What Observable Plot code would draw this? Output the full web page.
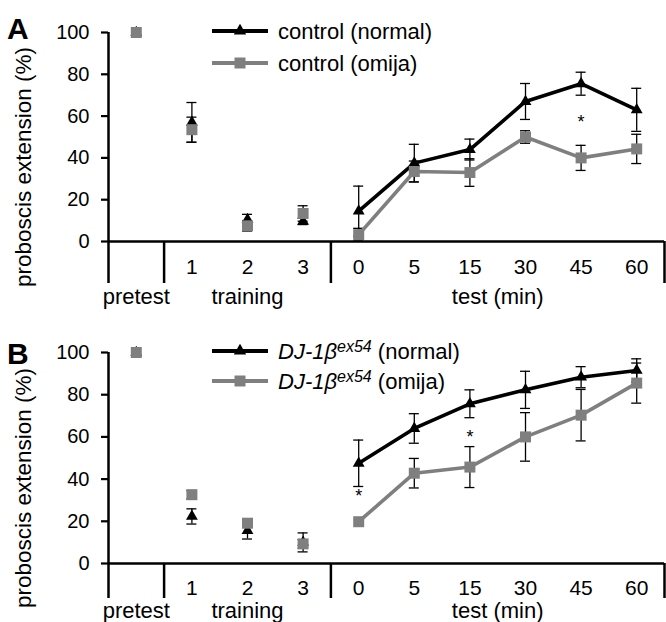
<!DOCTYPE html>
<html>
<head>
<meta charset="utf-8">
<script src="https://cdn.jsdelivr.net/npm/d3@7"></script>
<script src="https://cdn.jsdelivr.net/npm/@observablehq/plot@0.6"></script>
<style>
  html, body { margin: 0; padding: 0; background: #fff; }
  #chart svg { display: block; }
</style>
</head>
<body>
<div id="chart"></div>
<script>
// ---- data ----
const categories = ["pretest", "1", "2", "3", "0", "5", "15", "30", "45", "60"];
const tickLabels = ["", "1", "2", "3", "0", "5", "15", "30", "45", "60"];
const groupLabels = ["pretest", "training", "test (min)"];
const groupFirst = [0, 1, 4];   // first category index of each group
const groupLast = [0, 3, 9];    // last category index of each group
const yTicks = [0, 20, 40, 60, 80, 100];

// Panel A: control flies
const aNormal    = [100, 57, 10.5, 9.6, 14.5, 37.5, 44, 67, 75.5, 63];
const aNormalErr = [0, 9.5, 2.5, 1.5, 12, 9, 5, 8.6, 5.5, 10.3];
const aOmija     = [100, 53.5, 7.5, 13.4, 3.3, 33.5, 33, 50, 40, 44.3];
const aOmijaErr  = [0, 6, 2.5, 3.7, 3, 5, 6.6, 3, 6, 7];
const aStarCats  = ["45"];
const aStarVals  = [57];

// Panel B: DJ-1beta ex54 flies
const bNormal    = [100, 22.3, 15.6, 10, 47.5, 64, 75.7, 82.3, 88.3, 91.5];
const bNormalErr = [0, 3.6, 4, 4.5, 11, 7, 6.6, 8.8, 5, 5.5];
const bOmija     = [100, 32.6, 19.1, 9.3, 19.8, 42.8, 45.7, 60, 70.3, 85.5];
const bOmijaErr  = [0, 2, 2, 2, 0, 7, 9.7, 11.5, 12.2, 9.5];
const bStarCats  = ["0", "15"];
const bStarVals  = [32, 60];

const BLACK = "#000000";
const GRAY = "#7f7f7f";
const FONT = "Liberation Sans, Arial, Helvetica, sans-serif";

function rows(vals, errs) {
  return categories.map((c, i) => ({cat: c, i: i + 0.5, v: vals[i], e: errs[i]}));
}

function seriesMarks(data, color, symbol, r) {
  const withErr = data.filter(d => d.e > 0);
  const test = data.filter(d => d.i > 4);
  return [
    Plot.ruleX(withErr, {x: "i", y1: d => d.v - d.e, y2: d => d.v + d.e, stroke: BLACK, strokeWidth: 1.3}),
    Plot.ruleY(withErr, {y: d => d.v + d.e, x1: d => d.i - 0.09, x2: d => d.i + 0.09, stroke: BLACK, strokeWidth: 1.3}),
    Plot.ruleY(withErr, {y: d => d.v - d.e, x1: d => d.i - 0.09, x2: d => d.i + 0.09, stroke: BLACK, strokeWidth: 1.3}),
    Plot.line(test, {x: "i", y: "v", stroke: color, strokeWidth: 3.6}),
    Plot.dot(data, {x: "i", y: "v", symbol: symbol, r: r, fill: color, stroke: "none"})
  ];
}

function panel(cfg) {
  const normal = rows(cfg.normal, cfg.normalErr);
  const omija = rows(cfg.omija, cfg.omijaErr);
  const stars = cfg.starCats.map((c, k) => ({i: categories.indexOf(c) + 0.5, v: cfg.starVals[k]}));
  const ticks = tickLabels.map((t, i) => ({t, i: i + 0.5}));
  const groups = groupLabels.map((g, k) => ({g, i: (groupFirst[k] + groupLast[k] + 1) / 2}));

  const svg = Plot.plot({
    width: 666,
    height: cfg.height,
    marginLeft: 108,
    marginRight: 2,
    marginTop: cfg.top,
    marginBottom: cfg.height - cfg.bottom,
    x: {domain: [0, 10], axis: null},
    y: {domain: [0, 100]},
    style: {fontFamily: FONT, background: "white", color: "black", overflow: "visible"},
    marks: [
      Plot.axisY(yTicks, {anchor: "left", tickSize: 7, tickPadding: 12, fontSize: 20, strokeWidth: 2.2, label: null}),
      Plot.ruleX([0], {y1: cfg.sepBottom, y2: 100, stroke: BLACK, strokeWidth: 2.5}),
      Plot.ruleX([1, 4, 10], {y1: cfg.sepBottom, y2: 0, stroke: BLACK, strokeWidth: 2.5}),
      Plot.ruleY([0], {x1: 0, x2: 10, stroke: BLACK, strokeWidth: 2.5}),
      Plot.text(ticks, {x: "i", y: 0, text: "t", dy: cfg.tickDy, fontSize: 21, fill: BLACK}),
      Plot.text(groups, {x: "i", y: 0, text: "g", dy: cfg.groupDy, fontSize: 22, fill: BLACK}),
      ...seriesMarks(normal, BLACK, "triangle", 4.4),
      ...seriesMarks(omija, GRAY, "square", 6.2),
      Plot.text(stars, {x: "i", y: "v", text: () => "*", fontSize: 18, fill: BLACK})
    ]
  });

  const s = d3.select(svg);
  // panel letter
  s.append("text").attr("x", 7).attr("y", cfg.letterY)
    .attr("text-anchor", "start")
    .attr("font-family", FONT).attr("font-weight", "bold").attr("font-size", 30)
    .text(cfg.letter);
  // y label
  s.append("text")
    .attr("transform", `translate(31,${cfg.ylabelY}) rotate(-90)`)
    .attr("text-anchor", "middle").attr("font-family", FONT).attr("font-size", 22.5)
    .text("proboscis extension (%)");
  // legend
  const items = [
    {color: BLACK, symbol: d3.symbolTriangle, size: Math.PI * 4.6 * 4.6, suffix: " (normal)", y: cfg.legendY[0]},
    {color: GRAY, symbol: d3.symbolSquare, size: Math.PI * 6.2 * 6.2, suffix: " (omija)", y: cfg.legendY[1]}
  ];
  const lg = s.append("g").attr("text-anchor", "start");
  items.forEach(it => {
    lg.append("line").attr("x1", 212).attr("x2", 268).attr("y1", it.y).attr("y2", it.y)
      .attr("stroke", it.color).attr("stroke-width", 4);
    lg.append("path").attr("d", d3.symbol(it.symbol, it.size)())
      .attr("transform", `translate(240,${it.y})`).attr("fill", it.color);
    const t = lg.append("text").attr("x", 278).attr("y", it.y + 8)
      .attr("text-anchor", "start")
      .attr("font-family", FONT).attr("font-size", 22);
    if (cfg.genotype) {
      t.append("tspan").attr("font-style", "italic").text("DJ-1β");
      t.append("tspan").attr("font-style", "italic").attr("font-size", 16).attr("dy", -7).text("ex54");
      t.append("tspan").attr("dy", 7).text(it.suffix);
    } else {
      t.text("control" + it.suffix);
    }
  });
  return svg;
}

const root = document.getElementById("chart");
root.appendChild(panel({
  letter: "A", letterY: 39, height: 311, top: 32, bottom: 241, sepBottom: -20.1,
  tickDy: 26, groupDy: 55, ylabelY: 167, legendY: [31, 63], genotype: false,
  normal: aNormal, normalErr: aNormalErr, omija: aOmija, omijaErr: aOmijaErr,
  starCats: aStarCats, starVals: aStarVals
}));
root.appendChild(panel({
  letter: "B", letterY: 53, height: 311, top: 41, bottom: 252, sepBottom: -16.6,
  tickDy: 25, groupDy: 47, ylabelY: 177, legendY: [40, 70], genotype: true,
  normal: bNormal, normalErr: bNormalErr, omija: bOmija, omijaErr: bOmijaErr,
  starCats: bStarCats, starVals: bStarVals
}));
</script>
</body>
</html>
